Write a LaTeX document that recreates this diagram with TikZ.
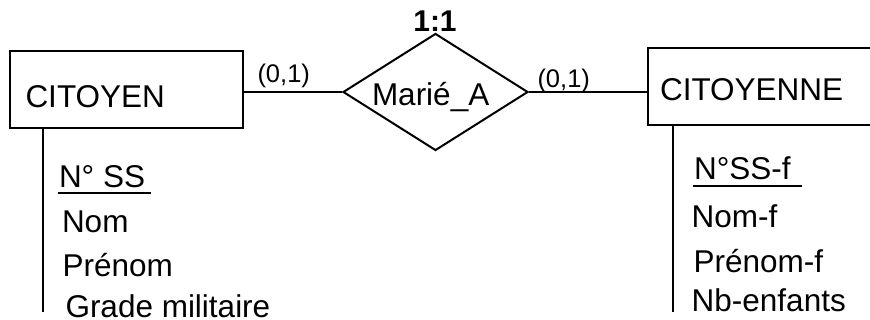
\documentclass[tikz,border=0pt]{standalone}
\usepackage{fontspec}
\setmainfont{Liberation Sans}
\usetikzlibrary{shapes.geometric}
\begin{document}
\begin{tikzpicture}[x=1pt,y=-1pt,
  line width=2pt,
  box/.style={draw, rectangle, inner sep=0pt},
  relshape/.style={draw, diamond, inner sep=0pt, minimum width=185pt, minimum height=117pt},
  lbl/.style={inner sep=0pt, anchor=base west, font=\fontsize{31.5}{36}\selectfont},
  card/.style={inner sep=0pt, anchor=base west, font=\fontsize{25.5}{29}\selectfont},
  ratio/.style={inner sep=0pt, anchor=base, font=\fontsize{30}{34}\selectfont\bfseries},
]
\useasboundingbox (0,0) rectangle (870,320);
\clip (0,0) rectangle (870,320);

% entities
\node[box, minimum width=233pt, minimum height=77pt] (cit) at (126.5,89.5) {};
\node[lbl] (citname) at (24.5,108) {CITOYEN};
\node[box, minimum width=232pt, minimum height=77.5pt] (cite) at (764,86.75) {};
\node[lbl] (citename) at (659,100.5) {CITOYENNE};

% relationship
\node[relshape] (rel) at (435.5,92) {};
\node[lbl] (relname) at (371,106) {Marié\_A};
\node[ratio] (card) at (435,31.7) {1:1};

% connectors
\draw (cit.east |- rel.west) -- (rel.west);
\draw (rel.east) -- (rel.east -| cite.west);
\node[card] (c1) at (256.5,83) {(0,1)};
\node[card] (c2) at (536.5,88) {(0,1)};

% attributes of CITOYEN
\coordinate (la) at (43,312);
\draw (la |- cit.south) -- (la);
\node[lbl] (k1) at (58,188) {N° SS};
\draw ([yshift=-4.7pt]k1.base west) -- ++(93,0);
\node[lbl] (a1) at (61,233) {Nom};
\node[lbl] (a2) at (61.6,276.5) {Prénom};
\node[lbl] (a3) at (64.5,317.5) {Grade militaire};

% attributes of CITOYENNE
\coordinate (ra) at (673.3,312);
\draw (ra |- cite.south) -- (ra);
\node[lbl] (k2) at (693,180) {N°SS-f};
\draw ([yshift=-6.5pt]k2.base west) -- ++(108.5,0);
\node[lbl] (b1) at (690.7,228) {Nom-f};
\node[lbl] (b2) at (692.5,273) {Prénom-f};
\node[lbl] (b3) at (690.7,312) {Nb-enfants};
\end{tikzpicture}
\end{document}
